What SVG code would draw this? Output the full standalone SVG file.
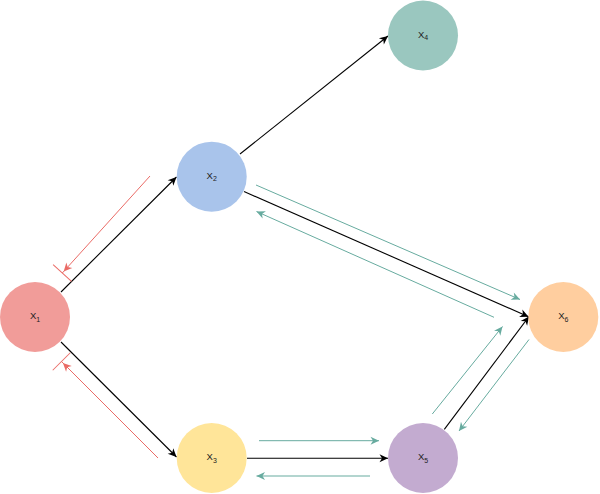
<svg xmlns="http://www.w3.org/2000/svg" width="600" height="494" viewBox="0 0 600 494">
<style>
.node text{font-family:"Liberation Sans",Arial,sans-serif;font-size:9.5px;fill:#222;}
.k{stroke:#000;stroke-width:1.1;fill:none;}
.t{stroke:#67AB9F;stroke-width:1;fill:none;}
.r{stroke:#EA6B66;stroke-width:1;fill:none;}
</style>
<defs>
<marker id="ak" markerUnits="userSpaceOnUse" orient="auto" overflow="visible" markerWidth="10" markerHeight="10" refX="0" refY="0">
<path d="M0,0 L-8.5,-4 L-6,0 L-8.5,4 Z" fill="#000"/>
</marker>
<marker id="at" markerUnits="userSpaceOnUse" orient="auto" overflow="visible" markerWidth="10" markerHeight="10" refX="0" refY="0">
<path d="M0,0 L-8.5,-4 L-6,0 L-8.5,4 Z" fill="#67AB9F"/>
</marker>
<marker id="ar" markerUnits="userSpaceOnUse" orient="auto" overflow="visible" markerWidth="10" markerHeight="10" refX="0" refY="0">
<path d="M-2,0 L-10.5,-4 L-8,0 L-10.5,4 Z" fill="#EA6B66"/>
<path d="M0,-12.4 L0,12.4" stroke="#EA6B66" stroke-width="1"/>
</marker>
</defs>
<g id="connectors">
<line class="k" x1="61" y1="292" x2="176.5" y2="177" marker-end="url(#ak)"/>
<line class="k" x1="61" y1="342" x2="176.5" y2="457" marker-end="url(#ak)"/>
<line class="r" x1="150" y1="176" x2="62.3" y2="273" marker-end="url(#ar)"/>
<line class="r" x1="158" y1="458" x2="61.5" y2="361.5" marker-end="url(#ar)"/>
<line class="k" x1="240" y1="154" x2="388" y2="36" marker-end="url(#ak)"/>
<line class="k" x1="244" y1="191.5" x2="528.5" y2="316.7" marker-end="url(#ak)"/>
<line class="t" x1="256" y1="185" x2="520" y2="299.5" marker-end="url(#at)"/>
<line class="t" x1="494" y1="317.3" x2="256.5" y2="211.5" marker-end="url(#at)"/>
<line class="k" x1="247" y1="458.3" x2="388" y2="458.3" marker-end="url(#ak)"/>
<line class="t" x1="259" y1="440.7" x2="379" y2="440.7" marker-end="url(#at)"/>
<line class="t" x1="370" y1="476" x2="256.5" y2="476" marker-end="url(#at)"/>
<line class="k" x1="444.3" y1="429.3" x2="529" y2="316.5" marker-end="url(#ak)"/>
<line class="t" x1="432.3" y1="414" x2="502.5" y2="326.5" marker-end="url(#at)"/>
<line class="t" x1="529" y1="339.5" x2="459" y2="431" marker-end="url(#at)"/>
</g>
<g id="x1" class="node"><circle cx="35" cy="317" r="35" fill="#F19C99"/><text x="35" y="319.2" text-anchor="middle">X<tspan dy="2.5" font-size="7">1</tspan></text></g>
<g id="x2" class="node"><circle cx="211.7" cy="176.7" r="35" fill="#A9C4EB"/><text x="211.7" y="178.7" text-anchor="middle">X<tspan dy="2.5" font-size="7">2</tspan></text></g>
<g id="x3" class="node"><circle cx="211.7" cy="458" r="35" fill="#FFE599"/><text x="211.7" y="460" text-anchor="middle">X<tspan dy="2.5" font-size="7">3</tspan></text></g>
<g id="x4" class="node"><circle cx="423" cy="35.5" r="35" fill="#9AC7BF"/><text x="423" y="37.5" text-anchor="middle">X<tspan dy="2.5" font-size="7">4</tspan></text></g>
<g id="x5" class="node"><circle cx="423" cy="458" r="35" fill="#C3ABD0"/><text x="423" y="460" text-anchor="middle">X<tspan dy="2.5" font-size="7">5</tspan></text></g>
<g id="x6" class="node"><circle cx="563.3" cy="317" r="35" fill="#FFCE9F"/><text x="563.3" y="319" text-anchor="middle">X<tspan dy="2.5" font-size="7">6</tspan></text></g>
</svg>
